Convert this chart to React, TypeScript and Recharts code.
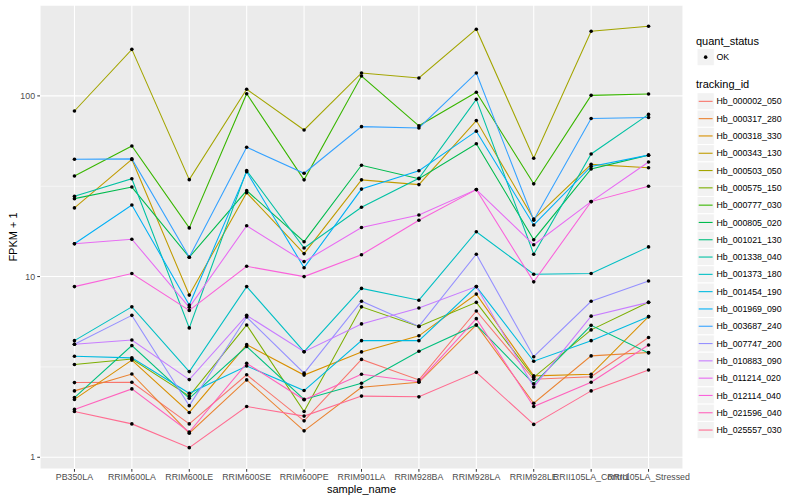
import React from 'react';
import { ComposedChart, Line, XAxis, YAxis, CartesianGrid, ReferenceLine } from 'recharts';

const sampleNames = [
  'PB350LA', 'RRIM600LA', 'RRIM600LE', 'RRIM600SE', 'RRIM600PE', 'RRIM901LA',
  'RRIM928BA', 'RRIM928LA', 'RRIM928LE', 'RRII105LA_Control', 'RRII105LA_Stressed',
];

const trackingIds = [
  'Hb_000002_050', 'Hb_000317_280', 'Hb_000318_330', 'Hb_000343_130', 'Hb_000503_050',
  'Hb_000575_150', 'Hb_000777_030', 'Hb_000805_020', 'Hb_001021_130', 'Hb_001338_040',
  'Hb_001373_180', 'Hb_001454_190', 'Hb_001969_090', 'Hb_003687_240', 'Hb_007747_200',
  'Hb_010883_090', 'Hb_011214_020', 'Hb_012114_040', 'Hb_021596_040', 'Hb_025557_030',
];

// ggplot default hue palette, 20 levels
const lineColors = [
  '#F8766D', '#EA8331', '#D89000', '#C09B00', '#A3A500', '#7CAE00', '#39B600', '#00BB4E',
  '#00BF7D', '#00C1A3', '#00BFC4', '#00BAE0', '#00B0F6', '#35A2FF', '#9590FF', '#C77CFF',
  '#E76BF3', '#FA62DB', '#FF62BC', '#FF6C91',
];

// FPKM + 1 per sample
const hb000002 = [2.59, 2.6, 1.53, 2.86, 1.59, 3.48, 2.68, 6.45, 2.7, 2.79, 4.6];
const hb000317 = [2.33, 2.89, 1.36, 2.68, 1.4, 2.44, 2.6, 5.4, 1.99, 3.64, 3.8];
const hb000318 = [2.09, 3.45, 1.77, 4.2, 2.85, 3.83, 4.7, 8.0, 2.82, 2.88, 6.0];
const hb000343 = [24, 44.5, 7.9, 29.1, 13.4, 34.3, 32.3, 73, 20.8, 41.8, 40];
const hb000503 = [82.5, 181, 34.4, 108.8, 64.8, 134, 125.6, 234, 45.2, 228, 243];
const hb000575 = [3.26, 3.5, 2.18, 5.4, 1.79, 6.8, 5.3, 7.2, 2.77, 5.07, 7.2];
const hb000777 = [36, 52.8, 18.6, 102.8, 34.3, 128.8, 68.3, 104.7, 32.6, 100.7, 102.5];
const hb000805 = [27, 31.3, 12.8, 29.9, 15.6, 41.3, 34.8, 54.3, 16, 39.4, 47];
const hb001021 = [2.14, 4.15, 2.12, 4.1, 2.09, 2.57, 3.86, 5.4, 2.55, 5.37, 3.78];
const hb001338 = [27.8, 34.8, 5.2, 38.6, 14.4, 24.2, 35, 95.7, 13.3, 47.7, 79];
const hb001373 = [4.42, 6.8, 2.98, 8.8, 3.84, 8.6, 7.4, 17.7, 10.3, 10.4, 14.6];
const hb001454 = [3.62, 3.55, 2.26, 3.2, 2.34, 4.42, 4.42, 8.8, 3.4, 4.42, 6.0];
const hb001969 = [15.2, 24.9, 6.96, 38.0, 11.2, 30.5, 38.5, 63.8, 19.3, 40.7, 47];
const hb003687 = [44.6, 44.8, 12.8, 52, 37.3, 67.6, 66.5, 134, 20.5, 75, 76];
const hb007747 = [4.22, 6.1, 1.93, 5.97, 2.92, 7.3, 5.3, 13.3, 3.6, 7.3, 9.45];
const hb010883 = [4.22, 4.46, 2.69, 6.1, 3.84, 5.47, 6.7, 8.8, 2.45, 6.04, 7.2];
const hb011214 = [15.2, 16.1, 6.76, 19.1, 12.1, 18.7, 21.9, 30.3, 15.0, 26, 43.1];
const hb012114 = [8.8, 10.4, 6.5, 11.4, 10.0, 13.2, 20.5, 30.3, 9.35, 26, 31.6];
const hb021596 = [1.84, 2.39, 1.38, 3.31, 2.08, 2.88, 2.62, 5.85, 1.91, 2.6, 4.18];
const hb025557 = [1.79, 1.53, 1.13, 1.91, 1.69, 2.18, 2.16, 2.95, 1.52, 2.33, 3.04];

const seriesValues = [
  hb000002, hb000317, hb000318, hb000343, hb000503, hb000575, hb000777, hb000805, hb001021, hb001338,
  hb001373, hb001454, hb001969, hb003687, hb007747, hb010883, hb011214, hb012114, hb021596, hb025557,
];

const yTicks = [1, 10, 100];
const yMinorTicks = [3.162, 31.62, 316.2];
const xTicks = sampleNames.map((_, i) => i);

const data = sampleNames.map((name, i) => {
  const row: any = { idx: i, sample: name };
  trackingIds.forEach((id, k) => {
    row[id] = seriesValues[k][i];
  });
  return row;
});

const FONT = '"Liberation Sans", Arial, Helvetica, sans-serif';

const YLabel = () => (
  <text x={13} y={237} transform="rotate(-90 13 237)" textAnchor="middle" fontSize={11} fill="#000" fontFamily={FONT} dy="0.35em">
    FPKM + 1
  </text>
);

const XLabel = ({ viewBox }: any) => (
  <text x={viewBox.x + viewBox.width / 2} y={493} textAnchor="middle" fontSize={11} fill="#000" fontFamily={FONT}>
    sample_name
  </text>
);

const LegendPanel = () => {
  const keyX = 697;
  const keyW = 17.3;
  const top = 92.7;
  return (
    <svg width={800} height={500} style={{ position: 'absolute', left: 0, top: 0, pointerEvents: 'none' }}>
      <text x={696} y={44.5} fontSize={11} fontFamily={FONT} fill="#000">quant_status</text>
      <rect x={keyX} y={48.5} width={keyW} height={keyW} fill="#F2F2F2" stroke="#FFFFFF" />
      <circle cx={keyX + keyW / 2} cy={48.5 + keyW / 2} r={1.8} fill="#000" />
      <text x={716.5} y={48.5 + keyW / 2} dy="0.35em" fontSize={8.8} fontFamily={FONT} fill="#000">OK</text>
      <text x={696} y={88} fontSize={11} fontFamily={FONT} fill="#000">tracking_id</text>
      {trackingIds.map((id, k) => {
        const y = top + k * keyW;
        return (
          <g key={id}>
            <rect x={keyX} y={y} width={keyW} height={keyW} fill="#F2F2F2" stroke="#FFFFFF" />
            <line x1={keyX + 1.7} x2={keyX + keyW - 1.7} y1={y + keyW / 2} y2={y + keyW / 2} stroke={lineColors[k]} strokeWidth={1.1} />
            <text x={716.5} y={y + keyW / 2} dy="0.35em" fontSize={8.8} fontFamily={FONT} fill="#000">{id}</text>
          </g>
        );
      })}
    </svg>
  );
};

export default function App() {
  return (
    <div style={{ position: 'relative', width: 800, height: 500, background: '#fff' }}>
      <style>{'body{margin:0}'}</style>
      <ComposedChart width={800} height={500} data={data} margin={{ top: 5, right: 117, bottom: 0, left: 0 }}>
        <CartesianGrid fill="#EBEBEB" stroke="#FFFFFF" strokeWidth={1.07} />
        {yMinorTicks.map((v) => (
          <ReferenceLine key={v} y={v} stroke="#FFFFFF" strokeWidth={0.53} />
        ))}
        <XAxis
          dataKey="idx"
          type="number"
          domain={[-0.6, 10.6]}
          ticks={xTicks}
          interval={0}
          tickFormatter={(i: number) => sampleNames[i]}
          tick={{ fontSize: 8.8, fill: '#4D4D4D', fontFamily: FONT }}
          tickSize={2.75}
          tickMargin={2}
          tickLine={{ stroke: '#333333' }}
          axisLine={false}
          height={31}
          label={<XLabel />}
        />
        <YAxis
          type="number"
          scale="log"
          domain={[0.861, 318.5]}
          allowDataOverflow
          ticks={yTicks}
          tick={{ fontSize: 8.8, fill: '#4D4D4D', fontFamily: FONT }}
          tickSize={2.75}
          tickMargin={2.2}
          tickLine={{ stroke: '#333333' }}
          axisLine={false}
          width={40}
          label={<YLabel />}
        />
        {trackingIds.map((id, k) => (
          <Line
            key={id}
            dataKey={id}
            type="linear"
            stroke={lineColors[k]}
            strokeWidth={1.07}
            dot={false}
            activeDot={false}
            isAnimationActive={false}
          />
        ))}
        {trackingIds.map((id) => (
          <Line
            key={id + '_pt'}
            dataKey={id}
            type="linear"
            stroke="none"
            dot={{ r: 1.8, fill: '#000000', stroke: 'none' }}
            activeDot={false}
            legendType="none"
            isAnimationActive={false}
          />
        ))}
      </ComposedChart>
      <LegendPanel />
    </div>
  );
}
